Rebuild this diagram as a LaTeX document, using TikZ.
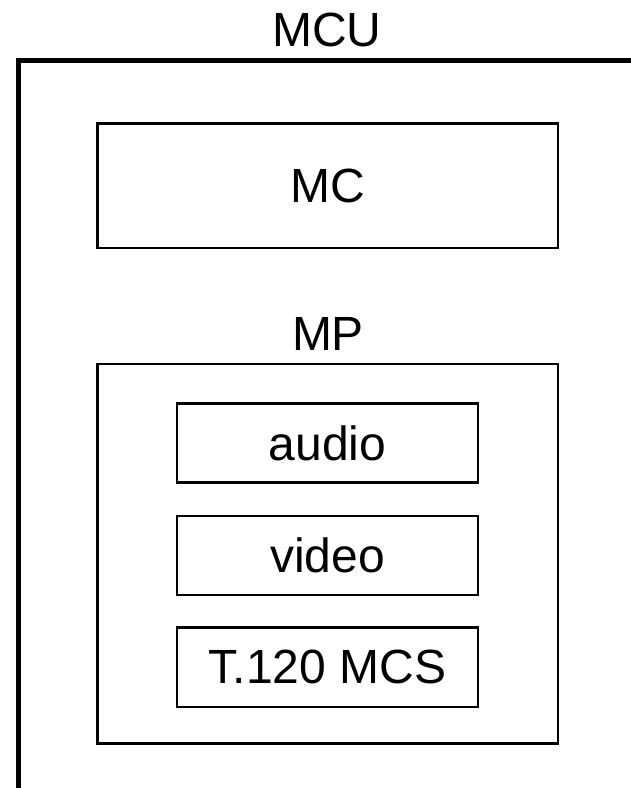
\documentclass[tikz,border=0pt]{standalone}
\usepackage{fontspec}
\setmainfont{Liberation Sans}
\begin{document}
\begin{tikzpicture}[x=1pt,y=-1pt,
  lbl/.style={font=\fontsize{48}{48}\selectfont},
  framebox/.style={draw, line width=2.6pt, inner sep=0pt, lbl},
  unitbox/.style={framebox, minimum width=460.5pt},
  partbox/.style={framebox, minimum width=301pt, minimum height=79pt},
  frameline/.style={line width=5pt}]
\useasboundingbox (0,0) rectangle (631,788);

% outer MCU frame (open at the bottom and right)
\coordinate (frameBottom) at (18.5,790);
\coordinate (frameCorner) at (18.5,60.8);
\coordinate (frameRight) at (633,60.8);
\draw[frameline] (frameBottom) -- (frameCorner) -- (frameRight);
\node[lbl, anchor=base] (mcu) at (327,46) {MCU};

% multipoint controller
\node[unitbox, minimum height=124.5pt] (mc) at (327.75,185.75) {MC};

% multipoint processor
\node[lbl, anchor=base] (mplabel) at (328,350) {MP};
\node[unitbox, minimum height=379.5pt] (mp) at (327.75,553.75) {};
\node[partbox] (audio) at (327.6,443) {audio};
\node[partbox] (video) at (327.6,555.6) {video};
\node[partbox, minimum height=79.5pt] (mcs) at (327.6,667.25) {T.120 MCS};
\end{tikzpicture}
\end{document}
